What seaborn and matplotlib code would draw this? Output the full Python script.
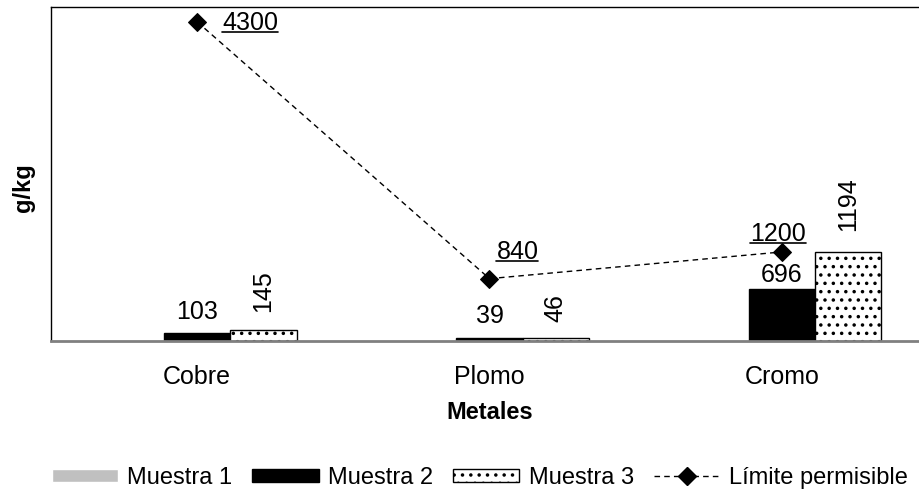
import matplotlib
matplotlib.use("Agg")
import matplotlib.pyplot as plt
import pandas as pd
import seaborn as sns
from matplotlib.lines import Line2D
from matplotlib.transforms import IdentityTransform

METALES = ["Cobre", "Plomo", "Cromo"]
MUESTRA_1 = [0, 0, 0]
MUESTRA_2 = [103, 39, 696]
MUESTRA_3 = [145, 46, 1194]
LIMITE = [4300, 840, 1200]
SERIES = ["Muestra 1", "Muestra 2", "Muestra 3"]

# label offsets (pixels), placed by hand like the source chart
LIMIT_OFFSETS = [(53, -1), (28, 27), (-4, 18)]
M2_GAPS = [14, 15, 7]
M3_GAPS = [18, 16, 21]
DASH = (0, (4, 3))

sns.set_theme(style="white")
plt.rcParams["font.family"] = ["Liberation Sans", "DejaVu Sans"]
plt.rcParams["text.color"] = "black"
plt.rcParams["axes.labelcolor"] = "black"
plt.rcParams["xtick.color"] = "black"
plt.rcParams["hatch.linewidth"] = 1.3
plt.rcParams["hatch.color"] = "#444444"

df = pd.DataFrame(
    {
        "metal": METALES * 3,
        "serie": [s for s in SERIES for _ in METALES],
        "valor": MUESTRA_1 + MUESTRA_2 + MUESTRA_3,
    }
)

fig = plt.figure(figsize=(9.2, 4.96), dpi=100)
ax = fig.add_axes([51 / 920, 1 - 341 / 496, 877 / 920, 334 / 496])

sns.barplot(
    data=df,
    x="metal",
    y="valor",
    hue="serie",
    order=METALES,
    hue_order=SERIES,
    palette=["#C0C0C0", "black", "white"],
    width=0.68,
    gap=0,
    saturation=1,
    legend=False,
    ax=ax,
)

for patch in ax.containers[2]:
    patch.set_edgecolor("black")
    patch.set_linewidth(1.0)
    patch.set_hatch("..")
for patch in ax.containers[1]:
    patch.set_edgecolor("black")

for patch, val, gap in zip(ax.containers[1], MUESTRA_2, M2_GAPS):
    ax.annotate(str(val), (patch.get_x() + patch.get_width() / 2, patch.get_height()),
                xytext=(0, gap), textcoords="offset pixels",
                ha="center", va="baseline", fontsize=18)
for patch, val, gap in zip(ax.containers[2], MUESTRA_3, M3_GAPS):
    ax.annotate(str(val), (patch.get_x() + patch.get_width() / 2, patch.get_height()),
                xytext=(0, gap), textcoords="offset pixels",
                ha="center", va="bottom", rotation=90, fontsize=18)

sns.lineplot(x=METALES, y=LIMITE, color="black", linestyle=DASH, linewidth=1,
             marker="D", markersize=9, markeredgecolor="black", ax=ax, sort=False)

limit_texts = []
for i, (val, off) in enumerate(zip(LIMITE, LIMIT_OFFSETS)):
    t = ax.annotate(str(val), (i, val), xytext=off, textcoords="offset pixels",
                    ha="center", va="center", fontsize=18)
    limit_texts.append(t)

ax.set_ylim(0, 4500)
ax.set_xlim(-0.5, 2.5)
ax.set_yticks([])
ax.tick_params(axis="x", length=0, pad=17, labelsize=18)
ax.set_xlabel("Metales", fontsize=17, fontweight="bold", labelpad=9)
ax.set_ylabel("g/kg", fontsize=17, fontweight="bold")
ax.yaxis.set_label_coords(-0.018, 0.46)

for side in ["left", "top", "right"]:
    ax.spines[side].set_color("black")
    ax.spines[side].set_linewidth(1)
ax.spines["bottom"].set_color("#808080")
ax.spines["bottom"].set_linewidth(2)

handles = [
    ax.containers[0].patches[0],
    ax.containers[1].patches[0],
    ax.containers[2].patches[0],
    Line2D([], [], color="black", linestyle=DASH, linewidth=1,
           marker="D", markersize=9),
]
labels = SERIES + ["Límite permisible"]
fig.legend(handles, labels, loc="center", bbox_to_anchor=(480 / 920, 1 - 478 / 496),
           ncol=4, frameon=False, fontsize=17, handlelength=2.8, handleheight=0.5,
           handletextpad=0.4, columnspacing=0.85)

# underline the limit labels
fig.canvas.draw()
renderer = fig.canvas.get_renderer()
for t in limit_texts:
    bb = t.get_window_extent(renderer)
    y = bb.y0 + 3
    fig.add_artist(Line2D([bb.x0, bb.x1], [y, y], color="black", linewidth=1.2,
                          transform=IdentityTransform()))

fig.savefig("out.png", dpi=100)
